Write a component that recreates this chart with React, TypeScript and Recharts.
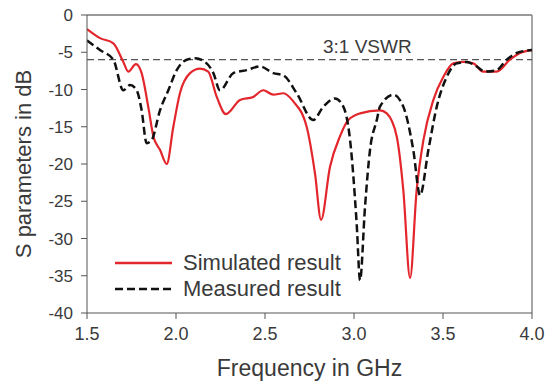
import {
  LineChart, Line, XAxis, YAxis, ReferenceLine, Legend, Label,
} from 'recharts'

// Frequency (GHz) / S11 (dB)
const simFreq = [
  1.5, 1.573, 1.648, 1.704, 1.732, 1.775, 1.807, 1.844, 1.873, 1.91, 1.948, 1.985,
  2.022, 2.079, 2.135, 2.181, 2.229, 2.28, 2.36, 2.434, 2.49, 2.547, 2.603, 2.659,
  2.734, 2.781, 2.815, 2.865, 2.921, 2.968, 3.034, 3.146, 3.184, 3.24, 3.277, 3.315,
  3.352, 3.39, 3.446, 3.502, 3.558, 3.614, 3.67, 3.726, 3.801, 3.876, 3.933, 4.0,
]
const simDb = [
  -1.9, -3.1, -3.8, -6.3, -7.6, -6.6, -7.8, -12.3, -16.3, -18.1, -20, -15,
  -10.5, -7.8, -7.2, -7.6, -11, -13.3, -11.4, -11, -10.1, -10.7, -10.5, -11.6,
  -15, -21.3, -27.5, -20.4, -16.3, -14.1, -13.2, -12.8, -13.2, -16.3, -23.5, -35.3,
  -23.5, -16.8, -11.4, -8.3, -6.5, -6.3, -6.5, -7.6, -7.6, -6, -5.1, -4.7,
]

const measFreq = [
  1.5, 1.573, 1.648, 1.704, 1.742, 1.779, 1.807, 1.835, 1.863, 1.91, 1.957, 2.004,
  2.06, 2.107, 2.163, 2.21, 2.247, 2.322, 2.397, 2.472, 2.547, 2.603, 2.678, 2.771,
  2.828, 2.893, 2.94, 2.978, 3.015, 3.034, 3.062, 3.09, 3.128, 3.146, 3.221, 3.277,
  3.333, 3.371, 3.418, 3.465, 3.521, 3.577, 3.633, 3.689, 3.736, 3.801, 3.858, 3.914, 4.0,
]
const measDb = [
  -3.4, -4.7, -6, -10.1, -9.4, -10.1, -12.8, -17.2, -16.8, -12.8, -10.1, -7.4,
  -6, -5.8, -6.3, -7.8, -10.1, -7.8, -7.4, -6.9, -7.8, -8.1, -10.5, -14.1,
  -12.3, -11.2, -12.3, -16.8, -28, -35.6, -25.7, -18.1, -14.1, -12.3, -10.7, -12.3,
  -18.1, -24.2, -18.1, -12.3, -8.3, -6.5, -6.3, -6.9, -7.6, -7.4, -6, -5.1, -4.7,
]

const xTicks = [1.5, 2.0, 2.5, 3.0, 3.5, 4.0]
const yTicks = [0, -5, -10, -15, -20, -25, -30, -35, -40]
const vswrDb = -6

const seriesNames = ['Simulated result', 'Measured result']

const simulated = simFreq.map((f, i) => ({ f, db: simDb[i] }))
const measured = measFreq.map((f, i) => ({ f, db: measDb[i] }))

const FONT = '"Liberation Sans", Arial, sans-serif'
const TEXT = '#3a3a3a'
const RED = '#e3262b'

function YTitle({ viewBox }: any) {
  const cx = viewBox.x + 23
  const cy = viewBox.y + viewBox.height / 2
  return (
    <text
      x={cx} y={cy} transform={`rotate(-90 ${cx} ${cy})`}
      textAnchor="middle" dominantBaseline="central"
      fontSize={22} fill={TEXT} fontFamily={FONT}
    >
      S parameters in dB
    </text>
  )
}

function VswrLabel({ viewBox }: any) {
  return (
    <text
      x={viewBox.x + viewBox.width * 0.63} y={viewBox.y - 7}
      textAnchor="middle" fontSize={19} fill={TEXT} fontFamily={FONT}
    >
      3:1 VSWR
    </text>
  )
}

function LegendBox() {
  const styles = [
    { stroke: RED, dash: undefined },
    { stroke: '#111', dash: '8 4' },
  ]
  return (
    <div style={{ fontFamily: FONT, fontSize: 22, color: TEXT, lineHeight: '26px' }}>
      {seriesNames.map((name, i) => (
        <div key={name} style={{ display: 'flex', alignItems: 'center' }}>
          <svg width={57} height={10} style={{ marginRight: 11 }}>
            <line x1={0} y1={5} x2={57} y2={5} stroke={styles[i].stroke}
              strokeWidth={2.5} strokeDasharray={styles[i].dash} />
          </svg>
          <span>{name}</span>
        </div>
      ))}
    </div>
  )
}

export default function App() {
  return (
    <div style={{ position: 'absolute', left: 0, top: 0, background: '#fff' }}>
      <LineChart width={554} height={385} margin={{ top: 15, right: 22, bottom: 0, left: 0 }}>
        <XAxis
          type="number" dataKey="f" domain={[1.5, 4]} ticks={xTicks}
          tickFormatter={(v: number) => v.toFixed(1)}
          allowDataOverflow height={72}
          tick={{ fill: TEXT, fontSize: 18, fontFamily: FONT }}
          stroke="#555" tickSize={6} tickMargin={8}
        >
          <Label value="Frequency in GHz" position="insideBottom" offset={9}
            style={{ fontSize: 23, fill: TEXT, fontFamily: FONT }} />
        </XAxis>
        <YAxis
          type="number" dataKey="db" domain={[-40, 0]} ticks={yTicks}
          allowDataOverflow width={87}
          tick={{ fill: TEXT, fontSize: 17, fontFamily: FONT }}
          stroke="#555" tickSize={6} tickMargin={8}
          label={<YTitle />}
        />
        <ReferenceLine y={0} stroke="#999" strokeWidth={2} />
        <ReferenceLine x={4} stroke="#888" strokeWidth={1.5} />
        <ReferenceLine y={vswrDb} stroke="#555" strokeDasharray="7 4" strokeWidth={1.3}
          label={<VswrLabel />} />
        <Legend
          layout="vertical" align="center" verticalAlign="middle"
          wrapperStyle={{ left: 115, top: 250, width: 'auto' }}
          content={<LegendBox />}
        />
        <Line
          data={simulated} dataKey="db" name={seriesNames[0]} type="monotone"
          stroke={RED} strokeWidth={2.2} dot={false} isAnimationActive={false}
        />
        <Line
          data={measured} dataKey="db" name={seriesNames[1]} type="monotone"
          stroke="#111" strokeWidth={2.5} strokeDasharray="8 4" dot={false}
          isAnimationActive={false}
        />
      </LineChart>
    </div>
  )
}
